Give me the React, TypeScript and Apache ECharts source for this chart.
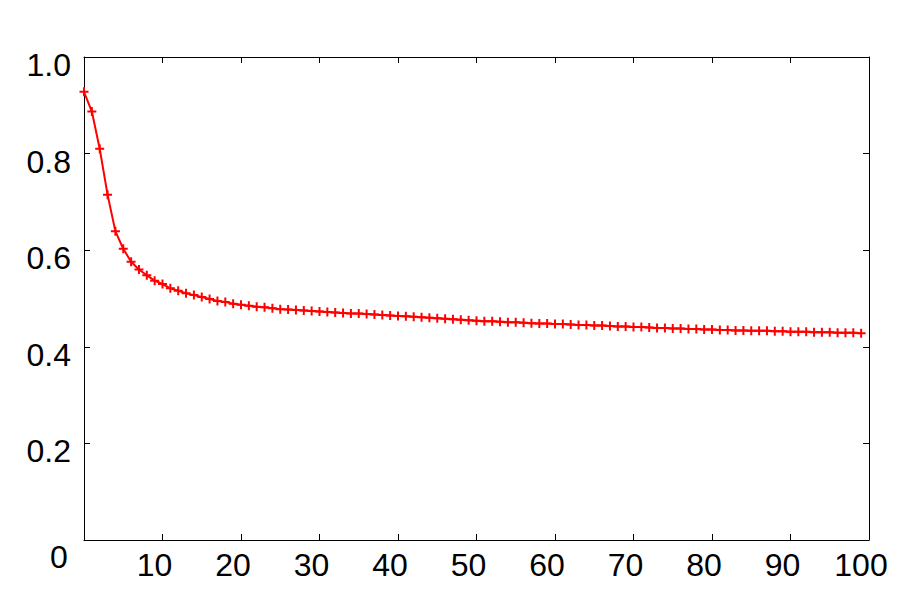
import React, { useEffect, useRef } from "react";
import * as echarts from "echarts";

const xValues: number[] = Array.from({ length: 100 }, (_, i) => i);
const yValues: number[] = [
  0.928, 0.887, 0.810, 0.715, 0.639, 0.603, 0.576, 0.560, 0.548, 0.537,
  0.530, 0.521, 0.516, 0.511, 0.507, 0.503, 0.499, 0.495, 0.493, 0.489,
  0.487, 0.485, 0.483, 0.482, 0.480, 0.478, 0.477, 0.476, 0.475, 0.474,
  0.473, 0.472, 0.471, 0.470, 0.469, 0.469, 0.468, 0.467, 0.466, 0.465,
  0.464, 0.463, 0.462, 0.461, 0.460, 0.459, 0.458, 0.457, 0.456, 0.455,
  0.454, 0.453, 0.453, 0.452, 0.451, 0.451, 0.450, 0.449, 0.448, 0.448,
  0.447, 0.447, 0.446, 0.445, 0.445, 0.444, 0.444, 0.443, 0.442, 0.442,
  0.441, 0.441, 0.440, 0.439, 0.439, 0.438, 0.438, 0.437, 0.437, 0.436,
  0.436, 0.435, 0.435, 0.434, 0.434, 0.433, 0.433, 0.433, 0.432, 0.432,
  0.431, 0.431, 0.431, 0.430, 0.430, 0.430, 0.429, 0.429, 0.429, 0.428,
];

const FONT = "'Liberation Sans', Arial, Helvetica, sans-serif";
const PLUS = "path://M3.5,0H5.5V3.5H9V5.5H5.5V9H3.5V5.5H0V3.5H3.5Z";

export default function App() {
  const ref = useRef<HTMLDivElement>(null);
  useEffect(() => {
    if (!ref.current) return;
    const chart = echarts.init(ref.current, undefined, { renderer: "svg" });
    const axisLine = { show: true, onZero: false, lineStyle: { color: "#000", width: 1 } };
    const tick = { show: true, inside: true, length: 6, lineStyle: { color: "#000", width: 1 } };
    chart.setOption({
      animation: false,
      backgroundColor: "#fff",
      grid: { left: 84, right: 31, top: 57, bottom: 60, containLabel: false },
      xAxis: [
        {
          type: "value",
          min: 0,
          max: 100,
          interval: 10,
          position: "bottom",
          axisLine,
          axisTick: tick,
          splitLine: { show: false },
          axisLabel: {
            show: true,
            margin: 9,
            fontSize: 32,
            fontFamily: FONT,
            color: "#000",
            padding: [0, 16, 0, 0],
            formatter: (v: number) => (v === 0 ? "" : String(v)),
          },
        },
        {
          type: "value",
          min: 0,
          max: 100,
          interval: 10,
          position: "top",
          axisLine,
          axisTick: tick,
          splitLine: { show: false },
          axisLabel: { show: false },
        },
      ],
      yAxis: [
        {
          type: "value",
          min: 0,
          max: 1,
          interval: 0.2,
          position: "left",
          axisLine,
          axisTick: tick,
          splitLine: { show: false },
          axisLabel: {
            show: true,
            margin: 13,
            color: "#000",
            formatter: (v: number) => (v === 0 ? "" : "{a|" + v.toFixed(1) + "}"),
            rich: {
              a: {
                fontSize: 32,
                fontFamily: FONT,
                color: "#000",
                padding: [16, 0, 0, 0],
              },
            },
          },
        },
        {
          type: "value",
          min: 0,
          max: 1,
          interval: 0.2,
          position: "right",
          axisLine,
          axisTick: tick,
          splitLine: { show: false },
          axisLabel: { show: false },
        },
      ],
      graphic: [
        {
          type: "text",
          x: 59,
          y: 557,
          style: {
            text: "0",
            fontSize: 32,
            fontFamily: FONT,
            fill: "#000",
            align: "center",
            verticalAlign: "middle",
          },
        },
      ],
      series: [
        {
          type: "line",
          data: xValues.map((x, i) => [x, yValues[i]]),
          xAxisIndex: 0,
          yAxisIndex: 0,
          symbol: PLUS,
          symbolSize: 9,
          showAllSymbol: true,
          itemStyle: { color: "#ff0000" },
          lineStyle: { color: "#ff0000", width: 2 },
        },
      ],
    });
    return () => chart.dispose();
  }, []);
  return (
    <div
      ref={ref}
      style={{ position: "absolute", left: 0, top: 0, width: 900, height: 600 }}
    />
  );
}
